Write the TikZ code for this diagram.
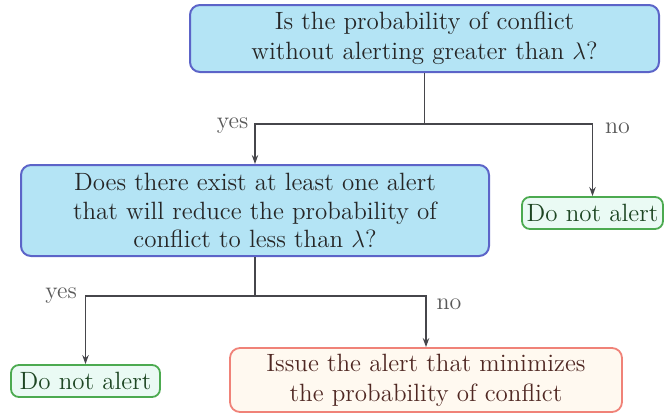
\documentclass[tikz,border=0pt]{standalone}
\usetikzlibrary{arrows.meta}

\definecolor{askfill}{RGB}{180,228,245}
\definecolor{askline}{RGB}{92,100,200}
\definecolor{okfill}{RGB}{234,250,244}
\definecolor{okline}{RGB}{76,170,80}
\definecolor{oktext}{RGB}{30,70,35}
\definecolor{actfill}{RGB}{255,249,240}
\definecolor{actline}{RGB}{240,130,120}
\definecolor{acttext}{RGB}{80,40,35}
\definecolor{wire}{RGB}{70,70,75}

\begin{document}
\begin{tikzpicture}[x=0.5pt, y=-0.5pt,
    font=\fontsize{12.5}{15}\selectfont,
    ask/.style={rectangle, rounded corners=5pt, draw=askline, fill=askfill,
                line width=1pt, align=center, inner sep=1pt, text=black!85},
    okbox/.style={rectangle, rounded corners=4pt, draw=okline, fill=okfill,
                line width=0.9pt, inner sep=1pt, text=oktext},
    actbox/.style={rectangle, rounded corners=5pt, draw=actline, fill=actfill,
                line width=0.9pt, align=center, inner sep=1pt, text=acttext},
    link/.style={draw=wire, line width=0.65pt},
    arr/.style={link, -{Stealth[length=4.5pt, width=3.2pt]}},
    lbl/.style={font=\fontsize{12}{13}\selectfont, text=black!65, inner sep=0pt}]
\useasboundingbox (0,0) rectangle (667,413);

% questions
\node[ask, minimum width=234.5pt, minimum height=33.5pt] (qrisk) at (424.5,38.5)
    {Is the probability of conflict\\without alerting greater than $\lambda$?};
\node[ask, minimum width=234pt, minimum height=45.5pt,
      font=\fontsize{12.5}{14.3}\selectfont] (qfix) at (255,210.5)
    {Does there exist at least one alert\\that will reduce the probability of\\conflict to less than $\lambda$?};

% outcomes
\node[okbox, minimum width=70.5pt, minimum height=16pt] (skipA) at (592.5,213) {Do not alert};
\node[okbox, minimum width=74.5pt, minimum height=16pt] (skipB) at (85.5,381) {Do not alert};
\node[actbox, minimum width=196pt, minimum height=32pt] (issue) at (426,380)
    {Issue the alert that minimizes\\the probability of conflict};

% connectors
\path (qrisk.south) ++(0,51) coordinate (splitA);
\path (qfix.south) ++(0,39) coordinate (splitB);
\draw[link] (qrisk.south) -- (splitA);
\draw[arr] (splitA) -| node[lbl, anchor=south east, xshift=-3pt, yshift=-5pt] {yes} (qfix.north);
\draw[arr] (splitA) -| node[lbl, anchor=south west, xshift=6pt, yshift=-5pt] {no} (skipA.north);
\draw[link] (qfix.south) -- (splitB);
\draw[arr] (splitB) -| node[lbl, anchor=south east, xshift=-4pt, yshift=-4pt] {yes} (skipB.north);
\draw[arr] (splitB) -| node[lbl, anchor=south west, xshift=5pt, yshift=-7pt] {no} (issue.north);
\end{tikzpicture}
\end{document}
